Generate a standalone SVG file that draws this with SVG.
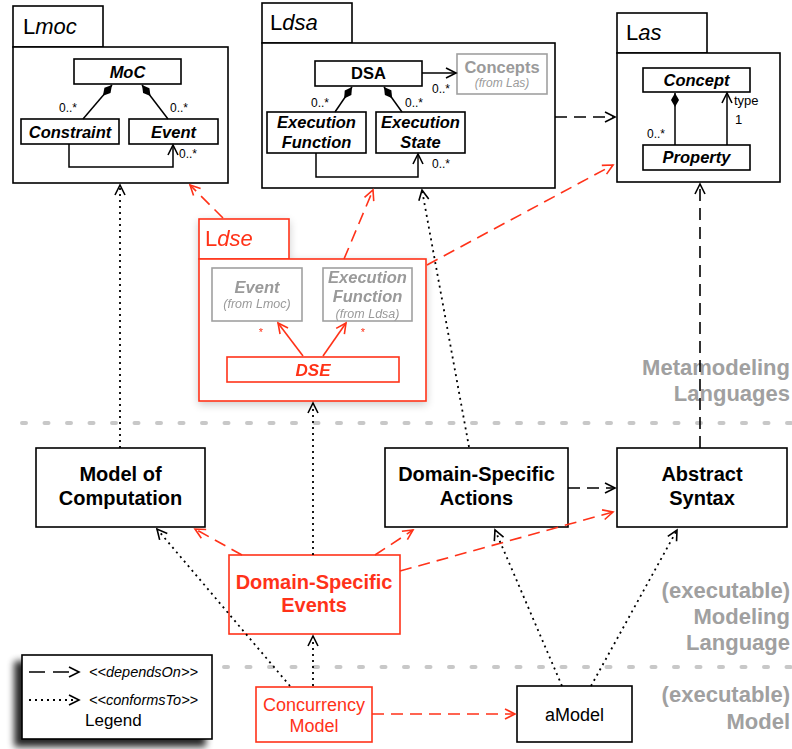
<svg xmlns="http://www.w3.org/2000/svg" width="792" height="749" viewBox="0 0 792 749">
<defs>
<style>
text{font-family:"Liberation Sans",Arial,Helvetica,sans-serif;}
.box{fill:#fff;stroke:#000;stroke-width:1.6;}
.rbox{fill:#fff;stroke:#ff3219;stroke-width:1.6;}
.gbox{fill:#fff;stroke:#a0a0a0;stroke-width:1.6;}
.ln{fill:none;stroke:#000;stroke-width:1.5;}
.cls{font-size:16.5px;font-weight:bold;font-style:italic;text-anchor:middle;fill:#000;}
.up{font-style:normal;}
.big{font-size:20px;font-weight:bold;text-anchor:middle;fill:#000;}
.mult{font-size:12px;fill:#000;}
.title{font-size:22px;font-weight:normal;font-style:normal;fill:#000;}
.it{font-style:italic;}
.gray{fill:#9a9a9a;}
.red{fill:#ff3219;}
.side{font-size:22px;font-weight:bold;text-anchor:end;fill:#a0a0a0;}
.dot{fill:none;stroke:#000;stroke-width:1.8;stroke-dasharray:2 4;}
.dash{fill:none;stroke:#000;stroke-width:1.6;stroke-dasharray:12 7;}
.rdash{fill:none;stroke:#ff3219;stroke-width:1.6;stroke-dasharray:12 7;}
.sep{fill:none;stroke:#c8c8c8;stroke-width:4;stroke-linecap:round;stroke-dasharray:4 18.5;}
</style>
<marker id="ah" markerUnits="userSpaceOnUse" markerWidth="14" markerHeight="14" refX="12" refY="7" orient="auto" viewBox="0 0 14 14"><path d="M2,2 L12,7 L2,12" fill="none" stroke="#000" stroke-width="1.6"/></marker>
<marker id="ahr" markerUnits="userSpaceOnUse" markerWidth="14" markerHeight="14" refX="12" refY="7" orient="auto" viewBox="0 0 14 14"><path d="M2,2 L12,7 L2,12" fill="none" stroke="#ff3219" stroke-width="1.6"/></marker>
<marker id="dm" markerUnits="userSpaceOnUse" markerWidth="16" markerHeight="10" refX="15" refY="5" orient="auto" viewBox="0 0 16 10"><path d="M1,5 L8,1 L15,5 L8,9 Z" fill="#000"/></marker>
<filter id="lsh" x="-20%" y="-20%" width="140%" height="150%"><feGaussianBlur in="SourceAlpha" stdDeviation="3.5"/><feOffset dx="-7" dy="7" result="b"/><feComponentTransfer><feFuncA type="linear" slope="0.85"/></feComponentTransfer><feMerge><feMergeNode/><feMergeNode in="SourceGraphic"/></feMerge></filter>
<filter id="ssh" x="-10%" y="-10%" width="120%" height="130%"><feGaussianBlur in="SourceAlpha" stdDeviation="4"/><feOffset dx="0" dy="3"/><feComponentTransfer><feFuncA type="linear" slope="0.2"/></feComponentTransfer><feMerge><feMergeNode/><feMergeNode in="SourceGraphic"/></feMerge></filter>
</defs>
<rect width="792" height="749" fill="#fff"/>

<g id="separators">
<path class="sep" d="M22,423 H792"/>
<path class="sep" d="M224,667 H792"/>
</g>

<g id="levels">
<text class="side" x="790" y="375">Metamodeling</text>
<text class="side" x="790" y="401">Languages</text>
<text class="side" x="790" y="598">(executable)</text>
<text class="side" x="790" y="624">Modeling</text>
<text class="side" x="790" y="650">Language</text>
<text class="side" x="790" y="702">(executable)</text>
<text class="side" x="790" y="729">Model</text>
</g>

<g id="Lmoc">
<rect class="box" x="13" y="6" width="90" height="41"/>
<rect class="box" x="13" y="47" width="215" height="136"/>
<text class="title" x="23" y="34">L<tspan class="it">moc</tspan></text>
<rect class="box" x="74" y="59" width="107" height="25"/>
<text class="cls" x="127.5" y="78">MoC</text>
<rect class="box" x="21" y="119" width="98" height="25"/>
<text class="cls" x="70" y="138">Constraint</text>
<rect class="box" x="129" y="119" width="89" height="25"/>
<text class="cls" x="173.5" y="138">Event</text>
<path class="ln" d="M83,119 L112,85" marker-end="url(#dm)"/>
<path class="ln" d="M168,119 L142,85" marker-end="url(#dm)"/>
<path class="ln" d="M69,144 V167 H173 V145" marker-end="url(#ah)"/>
<text class="mult" x="59" y="112">0..*</text>
<text class="mult" x="170" y="112">0..*</text>
<text class="mult" x="179" y="158">0..*</text>
</g>

<g id="Ldsa">
<rect class="box" x="262" y="3" width="90" height="40"/>
<rect class="box" x="262" y="43" width="293" height="145"/>
<text class="title" x="270" y="30">L<tspan class="it">dsa</tspan></text>
<rect class="box" x="315" y="61" width="107" height="25"/>
<text class="cls up" x="368.5" y="79">DSA</text>
<rect class="gbox" x="457" y="54" width="90" height="40"/>
<text class="cls up gray" x="502" y="73">Concepts</text>
<text x="502" y="87" style="font-size:12px;font-style:italic;text-anchor:middle" class="gray">(from Las)</text>
<path class="ln" d="M422,73 H456" marker-end="url(#ah)"/>
<text class="mult" x="432" y="93">0..*</text>
<rect class="box" x="267" y="112" width="99" height="41"/>
<text class="cls" x="316.5" y="128">Execution</text>
<text class="cls" x="316.5" y="148">Function</text>
<rect class="box" x="376" y="112" width="89" height="41"/>
<text class="cls" x="420.5" y="128">Execution</text>
<text class="cls" x="420.5" y="148">State</text>
<path class="ln" d="M335,112 L352,87" marker-end="url(#dm)"/>
<path class="ln" d="M402,112 L384,87" marker-end="url(#dm)"/>
<path class="ln" d="M316,153 V177 H418 V154" marker-end="url(#ah)"/>
<text class="mult" x="311" y="107">0..*</text>
<text class="mult" x="405" y="107">0..*</text>
<text class="mult" x="432" y="168">0..*</text>
</g>

<g id="Las">
<rect class="box" x="617" y="13" width="90" height="40"/>
<rect class="box" x="617" y="53" width="163" height="129"/>
<text class="title" x="626" y="40">L<tspan class="it">as</tspan></text>
<rect class="box" x="643" y="68" width="107" height="24"/>
<text class="cls" x="696.5" y="86">Concept</text>
<rect class="box" x="643" y="145" width="107" height="25"/>
<text class="cls" x="696.5" y="163">Property</text>
<path class="ln" d="M675,145 V93" marker-end="url(#dm)"/>
<path class="ln" d="M727,145 V93" marker-end="url(#ah)"/>
<text class="mult" x="647" y="138">0..*</text>
<text class="mult" x="734" y="105" style="font-size:13px">type</text>
<text class="mult" x="735" y="124" style="font-size:13px">1</text>
</g>

<g id="Ldse" filter="url(#ssh)">
<rect class="rbox" x="199" y="219" width="90" height="40"/>
<rect class="rbox" x="199" y="259" width="227" height="142"/>
<text class="title red" x="205" y="246">L<tspan class="it">dse</tspan></text>
<rect class="gbox" x="212" y="268" width="90" height="53"/>
<text class="cls gray" x="257" y="293">Event</text>
<text x="257" y="308" style="font-size:12.5px;font-style:italic;text-anchor:middle" class="gray">(from Lmoc)</text>
<rect class="gbox" x="323" y="268" width="89" height="53"/>
<text class="cls gray" x="367.5" y="283">Execution</text>
<text class="cls gray" x="367.5" y="302">Function</text>
<text x="367.5" y="318" style="font-size:12.5px;font-style:italic;text-anchor:middle" class="gray">(from Ldsa)</text>
<rect class="rbox" x="227" y="357" width="172" height="25"/>
<text class="cls red" x="313" y="376" style="font-size:17px">DSE</text>
<path d="M303,356 L278,323" fill="none" stroke="#ff3219" stroke-width="1.6" marker-end="url(#ahr)"/>
<path d="M323,356 L346,323" fill="none" stroke="#ff3219" stroke-width="1.6" marker-end="url(#ahr)"/>
<text class="red" x="261" y="336" style="font-size:11px;text-anchor:middle">*</text>
<text class="red" x="363" y="336" style="font-size:11px;text-anchor:middle">*</text>
</g>

<g id="ModelOfComputation">
<rect class="box" x="36" y="448" width="169" height="79"/>
<text class="big" x="120.5" y="481">Model of</text>
<text class="big" x="120.5" y="505">Computation</text>
</g>
<g id="DomainSpecificActions">
<rect class="box" x="385" y="448" width="183" height="79"/>
<text class="big" x="476.5" y="481">Domain-Specific</text>
<text class="big" x="476.5" y="505">Actions</text>
</g>
<g id="AbstractSyntax">
<rect class="box" x="617" y="448" width="170" height="79"/>
<text class="big" x="702" y="481">Abstract</text>
<text class="big" x="702" y="505">Syntax</text>
</g>
<g id="DomainSpecificEvents">
<rect class="rbox" x="229" y="555" width="171" height="79"/>
<text class="big red" x="314" y="589">Domain-Specific</text>
<text class="big red" x="314" y="612">Events</text>
</g>
<g id="ConcurrencyModel">
<rect class="rbox" x="256" y="687" width="116" height="55"/>
<text class="red" x="314" y="711" style="font-size:18px;text-anchor:middle">Concurrency</text>
<text class="red" x="314" y="732" style="font-size:18px;text-anchor:middle">Model</text>
</g>
<g id="aModel">
<rect class="box" x="517" y="686" width="115" height="56"/>
<text x="574.5" y="721" style="font-size:18px;text-anchor:middle">aModel</text>
</g>

<g id="connectors">
<path class="dash" d="M555,117 H615" marker-end="url(#ah)"/>
<path class="dot" d="M120,448 V185" marker-end="url(#ah)"/>
<path class="dot" d="M469,447 L422,190" marker-end="url(#ah)"/>
<path class="dash" d="M700,448 V184" marker-end="url(#ah)"/>
<path class="dash" d="M568,488 H615" marker-end="url(#ah)"/>
<path class="rdash" d="M223,218 L190,185" marker-end="url(#ahr)"/>
<path class="rdash" d="M344,259 L373,190" marker-end="url(#ahr)"/>
<path class="rdash" d="M427,265 L613,165" marker-end="url(#ahr)"/>
<path class="dot" d="M313,555 V403" marker-end="url(#ah)"/>
<path class="rdash" d="M242,555 L195,529" marker-end="url(#ahr)"/>
<path class="rdash" d="M375,555 L413,530" marker-end="url(#ahr)"/>
<path class="rdash" d="M400,571 L613,512" marker-end="url(#ahr)"/>
<path class="dot" d="M313,686 V636" marker-end="url(#ah)"/>
<path class="dot" d="M290,686 L157,529" marker-end="url(#ah)"/>
<path class="dot" d="M562,686 L495,530" marker-end="url(#ah)"/>
<path class="dot" d="M591,686 L677,530" marker-end="url(#ah)"/>
<path class="rdash" d="M372,714 H515" marker-end="url(#ahr)"/>
</g>

<g id="legend">
<rect x="22" y="655" width="190" height="84" fill="#fff" stroke="#000" stroke-width="1.6" filter="url(#lsh)"/>
<path d="M29,672 H79" fill="none" stroke="#000" stroke-width="1.6" stroke-dasharray="16 8" marker-end="url(#ah)"/>
<text x="89" y="677" style="font-size:14.5px;font-style:italic">&lt;&lt;dependsOn&gt;&gt;</text>
<path d="M29,700 H79" fill="none" stroke="#000" stroke-width="1.8" stroke-dasharray="2 4" marker-end="url(#ah)"/>
<text x="89" y="705" style="font-size:14.5px;font-style:italic">&lt;&lt;conformsTo&gt;&gt;</text>
<text x="85" y="726" style="font-size:17px">Legend</text>
</g>
</svg>
